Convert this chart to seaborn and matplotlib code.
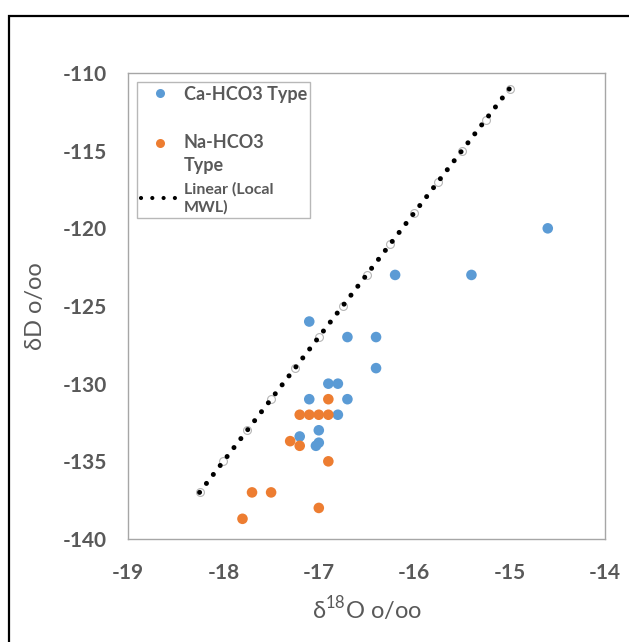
import numpy as np
import pandas as pd
import matplotlib
matplotlib.use("Agg")
import matplotlib.pyplot as plt
import seaborn as sns
from matplotlib.lines import Line2D
from matplotlib.patches import Rectangle

# ---- data ----
ca_x = [-17.1, -16.7, -16.4, -16.4, -16.9, -16.8, -17.1, -16.7, -16.8, -17.0,
        -17.2, -17.0, -17.03, -16.2, -15.4, -14.6]
ca_y = [-126, -127, -127, -129, -130, -130, -131, -131, -132, -133,
        -133.4, -133.8, -134, -123, -123, -120]
na_x = [-16.9, -17.2, -17.1, -17.0, -16.9, -17.3, -17.2, -16.9, -17.7, -17.5,
        -17.0, -17.8]
na_y = [-131, -132, -132, -132, -132, -133.7, -134, -135, -137, -137,
        -138, -138.7]
mwl_x = [-18.25, -18.0, -17.75, -17.5, -17.25, -17.0, -16.75, -16.5, -16.25,
         -16.0, -15.75, -15.5, -15.25, -15.0]
mwl_y = [-137, -135, -133, -131, -129, -127, -125, -123, -121,
         -119, -117, -115, -113, -111]
x_ticks = [-19, -18, -17, -16, -15, -14]
y_ticks = [-140, -135, -130, -125, -120, -115, -110]
labels = ["Ca-HCO3 Type", "Na-HCO3 Type", "Linear (Local MWL)"]
legend_labels = ["Ca-HCO3 Type", "\nNa-HCO3\nType", "Linear (Local\nMWL)"]

df = pd.DataFrame({
    "x": ca_x + na_x,
    "y": ca_y + na_y,
    "type": [labels[0]] * len(ca_x) + [labels[1]] * len(na_x),
})
mwl = pd.DataFrame({"x": mwl_x, "y": mwl_y})

sns.set_style("white")
plt.rcParams["font.family"] = ["Lato", "DejaVu Sans"]
plt.rcParams["mathtext.fontset"] = "custom"
plt.rcParams["mathtext.rm"] = "Lato"

GRAY = "#595959"
BLUE = "#5B9BD5"
ORANGE = "#ED7D31"

fig = plt.figure(figsize=(6.29, 6.42), dpi=100)
ax = fig.add_axes([128 / 629, 1 - 539 / 642, (605 - 128) / 629, (539 - 73) / 642])

# MWL points (hollow) and dotted trend line
sns.scatterplot(data=mwl, x="x", y="y", ax=ax, s=32, facecolor="white",
                edgecolor="#b5b5b5", linewidth=0.8, zorder=2, legend=False)
ax.plot(mwl["x"], mwl["y"], color="black", lw=3.6,
        linestyle=(0, (0.01, 2.25)), dash_capstyle="round", zorder=4)

sns.scatterplot(data=df, x="x", y="y", hue="type",
                palette={labels[0]: BLUE, labels[1]: ORANGE},
                s=58, edgecolor="none", ax=ax, zorder=3, legend=False)

ax.set_xlim(-19, -14)
ax.set_ylim(-140, -110)
ax.set_xticks(x_ticks)
ax.set_yticks(y_ticks)
ax.set_xticklabels([str(t) for t in x_ticks])
ax.set_yticklabels([str(t) for t in y_ticks])
ax.tick_params(length=0, labelsize=15, labelcolor=GRAY)
ax.tick_params(axis="x", pad=17)
ax.tick_params(axis="y", pad=15)
for lab in ax.get_xticklabels() + ax.get_yticklabels():
    lab.set_fontweight("bold")
for sp in ax.spines.values():
    sp.set_visible(True)
    sp.set_color("#a6a6a6")
    sp.set_linewidth(1.0)

ax.set_xlabel(r"δ$^{\mathregular{18}}$O o/oo", fontsize=17, color=GRAY, labelpad=8)
ax.set_ylabel("δD o/oo", fontsize=17, color=GRAY, labelpad=12)

# legend
handles = [
    Line2D([], [], marker="o", linestyle="none", markersize=6.5,
           markerfacecolor=BLUE, markeredgecolor="none"),
    Line2D([], [], marker="o", linestyle="none", markersize=6.5,
           markerfacecolor=ORANGE, markeredgecolor="none"),
    Line2D([], [], color="black", lw=3.0, linestyle=(0, (0.01, 2.7)),
           dash_capstyle="round"),
]
leg = ax.legend(handles, legend_labels, loc="upper left",
                bbox_to_anchor=(137 / 629, 1 - 82 / 642),
                bbox_transform=fig.transFigure,
                frameon=True, fancybox=False, edgecolor="#a6a6a6",
                borderpad=0.2, handlelength=2.1, handletextpad=0.28,
                labelspacing=0.45, prop={"size": 13, "weight": "bold"},
                borderaxespad=0)
leg.get_frame().set_linewidth(1.0)
for i, t in enumerate(leg.get_texts()):
    t.set_color(GRAY)
    t.set_linespacing(1.45)
    if i == 2:
        t.set_fontsize(11.5)
        t.set_linespacing(1.3)

# outer chart border (cut off on right and bottom)
fig.patches.append(Rectangle((9 / 629, -0.2), 1.5, 0.2 + 1 - 16 / 642,
                             transform=fig.transFigure, fill=False,
                             edgecolor="black", lw=1.6))

fig.savefig("out.png", dpi=100)
